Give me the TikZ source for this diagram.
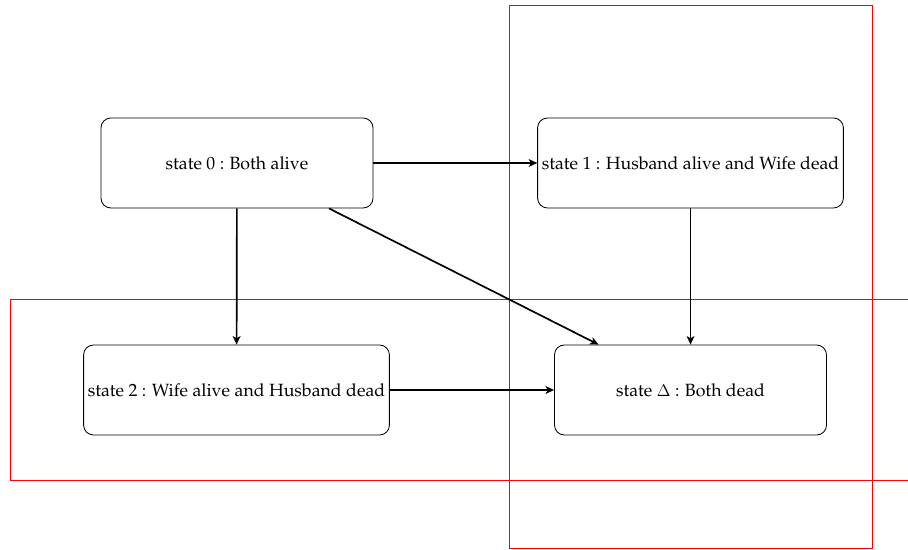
\documentclass[tikz,border=0pt]{standalone}
\usepackage[T1]{fontenc}
\usepackage{palatino}
\usetikzlibrary{arrows.meta}
\begin{document}
\begin{tikzpicture}[
        statebox/.style={rectangle, rounded corners=7pt, draw=black, semithick, fill=white, minimum width=6.8cm, minimum height=2.25cm, inner sep=3pt, font=\fontsize{12.6}{15}\selectfont},
        move/.style={-{Stealth[length=6pt, width=5.5pt, inset=1.5pt]}, line width=1.2pt}
    ]
                \useasboundingbox (0,0) rectangle (22.7,13.75);
                \draw[red] (12.725,0.05) rectangle (21.8,13.625);
                \draw[red] (0.25,1.75) rectangle (23.5,6.275);
                \node[statebox] (s0) at (5.925,9.675) {state 0 : Both alive};
                \node[statebox] (s1) at (17.2625,9.675) {state 1 : Husband alive and Wife dead};
                \node[statebox] (s2) at (5.9125,4) {state 2 : Wife alive and Husband dead};
                \node[statebox] (sd) at (17.2625,4) {state $\Delta$ : Both dead};
                \draw[move] (s0) -- (s1);
                \draw[move] (s0) -- (s2);
                \draw[move] ([xshift=2.3cm]s0.south) -- ([xshift=-2.3cm]sd.north);
                \draw[move] (s1) -- (sd);
                \draw[move] (s2) -- (sd);
            \end{tikzpicture}
\end{document}
